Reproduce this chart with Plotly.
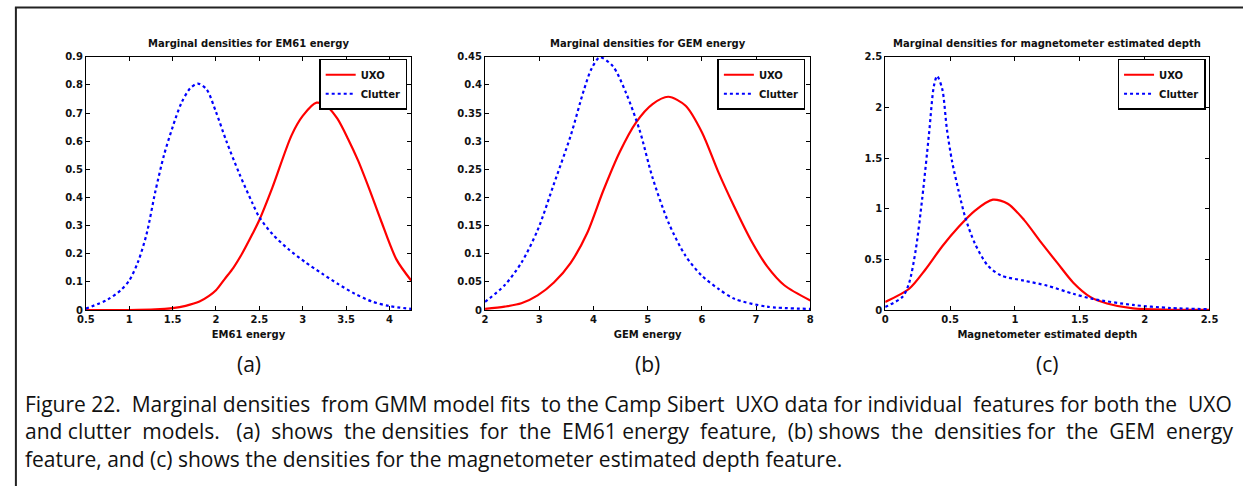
import plotly.graph_objects as go

W, H = 1252, 492

# ---------------- data ----------------
# (a) EM61 energy
em61_uxo_x = [0.5, 1.0, 1.3, 1.5, 1.65, 1.81, 1.92, 2.0, 2.1, 2.2, 2.3, 2.42, 2.5, 2.65, 2.87, 3.0, 3.16, 3.3, 3.4, 3.52, 3.64, 3.78, 3.9, 4.08, 4.25]
em61_uxo_y = [0.0, 0.0, 0.002, 0.007, 0.015, 0.03, 0.05, 0.07, 0.11, 0.15, 0.20, 0.27, 0.32, 0.435, 0.62, 0.69, 0.737, 0.718, 0.68, 0.61, 0.53, 0.42, 0.32, 0.18, 0.105]
em61_clu_x = [0.5, 0.75, 0.9, 1.0, 1.1, 1.2, 1.3, 1.4, 1.5, 1.6, 1.7, 1.79, 1.89, 2.0, 2.12, 2.27, 2.42, 2.5, 2.65, 2.84, 3.03, 3.22, 3.41, 3.6, 3.8, 4.0, 4.25]
em61_clu_y = [0.005, 0.037, 0.07, 0.105, 0.17, 0.27, 0.42, 0.55, 0.65, 0.735, 0.787, 0.805, 0.785, 0.704, 0.60, 0.484, 0.38, 0.33, 0.27, 0.215, 0.17, 0.13, 0.092, 0.058, 0.03, 0.014, 0.004]

# (b) GEM energy
gem_uxo_x = [2.0, 2.36, 2.67, 2.97, 3.27, 3.58, 3.88, 4.18, 4.48, 4.79, 5.09, 5.38, 5.7, 6.0, 6.3, 6.6, 6.9, 7.2, 7.52, 8.0]
gem_uxo_y = [0.002, 0.006, 0.012, 0.026, 0.049, 0.084, 0.136, 0.212, 0.28, 0.334, 0.366, 0.379, 0.363, 0.316, 0.246, 0.183, 0.125, 0.078, 0.044, 0.017]
gem_clu_x = [2.0, 2.36, 2.67, 2.97, 3.27, 3.58, 3.82, 3.97, 4.12, 4.36, 4.6, 4.85, 5.09, 5.39, 5.7, 6.0, 6.3, 6.6, 7.2, 8.0]
gem_clu_y = [0.0145, 0.044, 0.084, 0.142, 0.224, 0.31, 0.39, 0.43, 0.449, 0.433, 0.386, 0.32, 0.235, 0.154, 0.096, 0.061, 0.038, 0.020, 0.006, 0.002]

# (c) magnetometer estimated depth
mag_uxo_x = [0.0, 0.185, 0.31, 0.44, 0.565, 0.69, 0.83, 0.945, 1.07, 1.2, 1.33, 1.45, 1.58, 1.71, 1.91, 2.2, 2.5]
mag_uxo_y = [0.08, 0.21, 0.40, 0.63, 0.82, 0.98, 1.09, 1.05, 0.89, 0.67, 0.46, 0.27, 0.13, 0.065, 0.016, 0.003, 0.001]
mag_clu_x = [0.0, 0.134, 0.185, 0.236, 0.286, 0.337, 0.375, 0.40, 0.44, 0.475, 0.515, 0.565, 0.616, 0.69, 0.79, 0.895, 1.07, 1.25, 1.45, 1.6, 1.91, 2.2, 2.5]
mag_clu_y = [0.03, 0.13, 0.27, 0.60, 1.11, 1.73, 2.21, 2.31, 2.18, 1.79, 1.47, 1.18, 0.92, 0.66, 0.44, 0.34, 0.29, 0.24, 0.16, 0.11, 0.05, 0.02, 0.008]

titles = ["Marginal densities for EM61 energy",
          "Marginal densities for GEM energy",
          "Marginal densities for magnetometer estimated depth"]
xlabels = ["EM61 energy", "GEM energy", "Magnetometer estimated depth"]
panel_labels = ["(a)", "(b)", "(c)"]

x_ranges = [[0.5, 4.25], [2, 8], [0, 2.5]]
x_ticks = [[0.5, 1, 1.5, 2, 2.5, 3, 3.5, 4], [2, 3, 4, 5, 6, 7, 8], [0, 0.5, 1, 1.5, 2, 2.5]]
x_ticktext = [["0.5", "1", "1.5", "2", "2.5", "3", "3.5", "4"], ["2", "3", "4", "5", "6", "7", "8"],
              ["0", "0.5", "1", "1.5", "2", "2.5"]]
y_ranges = [[0, 0.9], [0, 0.45], [0, 2.5]]
y_ticks = [[0, 0.1, 0.2, 0.3, 0.4, 0.5, 0.6, 0.7, 0.8, 0.9],
           [0, 0.05, 0.1, 0.15, 0.2, 0.25, 0.3, 0.35, 0.4, 0.45],
           [0, 0.5, 1, 1.5, 2, 2.5]]
y_ticktext = [["0", "0.1", "0.2", "0.3", "0.4", "0.5", "0.6", "0.7", "0.8", "0.9"],
              ["0", "0.05", "0.1", "0.15", "0.2", "0.25", "0.3", "0.35", "0.4", "0.45"],
              ["0", "0.5", "1", "1.5", "2", "2.5"]]

caption_lines = [
    "Figure 22.  Marginal densities from GMM model fits to the Camp Sibert UXO data for individual features for both the UXO",
    "and clutter models.  (a) shows the densities for the EM61 energy feature, (b) shows the densities for the GEM energy",
    "feature, and (c) shows the densities for the magnetometer estimated depth feature.",
]
# extra spaces used to imitate the justified paragraph (per line)
caption_extra_spaces = [5, 14, 0]

series = [
    (em61_uxo_x, em61_uxo_y, em61_clu_x, em61_clu_y),
    (gem_uxo_x, gem_uxo_y, gem_clu_x, gem_clu_y),
    (mag_uxo_x, mag_uxo_y, mag_clu_x, mag_clu_y),
]

# ---------------- layout geometry (pixels) ----------------
plot_px = [(78, 408), (483, 813), (889, 1218)]
top_px, bot_px = 53, 312
legend_right_px = [404, 808, 1214]

def px(x):
    return x / W

def py(y):
    return 1 - y / H

def justify(line, extra):
    words = line.split(" ")
    gaps = len(words) - 1
    if extra <= 0 or gaps <= 0:
        return line
    out = words[0]
    for k, w in enumerate(words[1:]):
        n_here = (extra * (k + 1)) // gaps - (extra * k) // gaps
        out += " " * (1 + n_here) + w
    return out

BOLD = "DejaVu Sans, Liberation Sans, Arial, sans-serif"
AX_FONT = dict(family=BOLD, size=10, color="#111111", weight="bold")
CAP_FAMILY = "Open Sans, Lato, sans-serif"

fig = go.Figure()
layout = dict(
    width=W, height=H,
    margin=dict(l=0, r=0, t=0, b=0),
    paper_bgcolor="white", plot_bgcolor="white",
    showlegend=True,
    annotations=[], shapes=[],
)

for i in range(3):
    sfx = "" if i == 0 else str(i + 1)
    legname = "legend" + sfx
    ux, uy, cx, cy = series[i]
    fig.add_trace(go.Scatter(x=ux, y=uy, mode="lines", name="UXO",
                             line=dict(color="#ff0000", width=2.2, shape="spline", smoothing=0.8),
                             xaxis="x" + sfx, yaxis="y" + sfx, legend=legname))
    fig.add_trace(go.Scatter(x=cx, y=cy, mode="lines", name="Clutter",
                             line=dict(color="#0000ff", width=2.2, dash="dot", shape="spline", smoothing=0.8),
                             xaxis="x" + sfx, yaxis="y" + sfx, legend=legname))
    l, r = plot_px[i]
    layout["xaxis" + sfx] = dict(
        domain=[px(l), px(r)], anchor="y" + sfx, range=x_ranges[i],
        tickvals=x_ticks[i], ticktext=x_ticktext[i],
        showline=True, linecolor="black", linewidth=1, mirror="ticks",
        ticks="inside", ticklen=4, tickwidth=1, tickcolor="black",
        showgrid=False, zeroline=False, tickfont=AX_FONT,
        title=dict(text=xlabels[i], font=dict(family=BOLD, size=10, color="#111111", weight="bold"),
                   standoff=6),
    )
    layout["yaxis" + sfx] = dict(
        domain=[py(bot_px), py(top_px)], anchor="x" + sfx, range=y_ranges[i],
        tickvals=y_ticks[i], ticktext=y_ticktext[i],
        showline=True, linecolor="black", linewidth=1, mirror="ticks",
        ticks="inside", ticklen=4, tickwidth=1, tickcolor="black",
        showgrid=False, zeroline=False, tickfont=AX_FONT,
    )
    layout[legname] = dict(
        x=px(legend_right_px[i]), y=py(55), xanchor="right", yanchor="top",
        bordercolor="black", borderwidth=1.5, bgcolor="white",
        font=dict(family=BOLD, size=10, color="#111111", weight="bold"),
        tracegroupgap=0, itemwidth=30,
    )
    cxp = (l + r) / 2
    layout["annotations"].append(dict(
        text=titles[i], x=px(cxp), y=py(39), xref="paper", yref="paper",
        showarrow=False, xanchor="center", yanchor="middle",
        font=dict(family=BOLD, size=10, color="#111111", weight="bold"),
    ))
    layout["annotations"].append(dict(
        text=panel_labels[i], x=px(cxp), y=py(367), xref="paper", yref="paper",
        showarrow=False, xanchor="center", yanchor="middle",
        font=dict(family=CAP_FAMILY, size=21, color="#111111"),
    ))

# caption: one multi-line text block
cap_text = "<br>".join(justify(t, e) for t, e in zip(caption_lines, caption_extra_spaces))
layout["annotations"].append(dict(
    text=cap_text, x=px(14), y=py(436), xref="paper", yref="paper",
    showarrow=False, xanchor="left", yanchor="middle", align="left",
    font=dict(family=CAP_FAMILY, size=21, color="#111111"),
))

# outer frame (left and top edges visible)
layout["shapes"].append(dict(type="line", xref="paper", yref="paper",
                             x0=px(7), x1=px(7), y0=0, y1=py(2.5),
                             line=dict(color="#222222", width=2)))
layout["shapes"].append(dict(type="line", xref="paper", yref="paper",
                             x0=px(6), x1=1, y0=py(2.5), y1=py(2.5),
                             line=dict(color="#222222", width=2)))

fig.update_layout(**layout)
fig.write_html("out.html", config={"displayModeBar": False},
               post_script="document.body.style.margin='0';document.body.style.overflow='hidden';")
